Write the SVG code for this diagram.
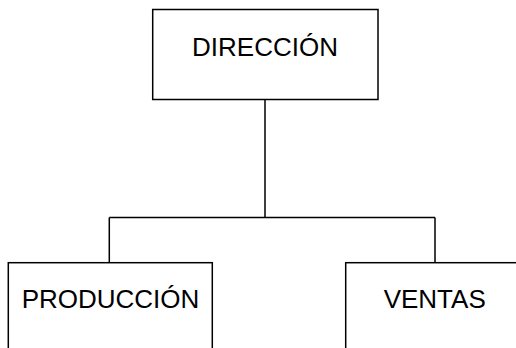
<svg xmlns="http://www.w3.org/2000/svg" width="516" height="348" viewBox="0 0 516 348">
<style>
.box{fill:#fff;stroke:#000;stroke-width:1.5}
.lbl{font-family:"Liberation Sans",Arial,sans-serif;font-size:26px;fill:#000;text-anchor:middle}
.con{fill:none;stroke:#000;stroke-width:1.5}
</style>
<rect width="516" height="348" fill="#fff"/>
<g id="connectors">
<path class="con" d="M265,99.5 V217.5 M109.3,217.5 H435 M109.3,217.5 V262.7 M435,217.5 V262.7"/>
</g>
<g id="direccion">
<rect class="box" x="152.7" y="9.5" width="225.3" height="90"/>
<text class="lbl" x="265" y="55.7">DIRECCIÓN</text>
</g>
<g id="produccion">
<rect class="box" x="8.3" y="262.7" width="204" height="100"/>
<text class="lbl" x="110.5" y="308.2">PRODUCCIÓN</text>
</g>
<g id="ventas">
<rect class="box" x="345.7" y="262.7" width="200" height="100"/>
<text class="lbl" x="434.7" y="308.2">VENTAS</text>
</g>
</svg>
